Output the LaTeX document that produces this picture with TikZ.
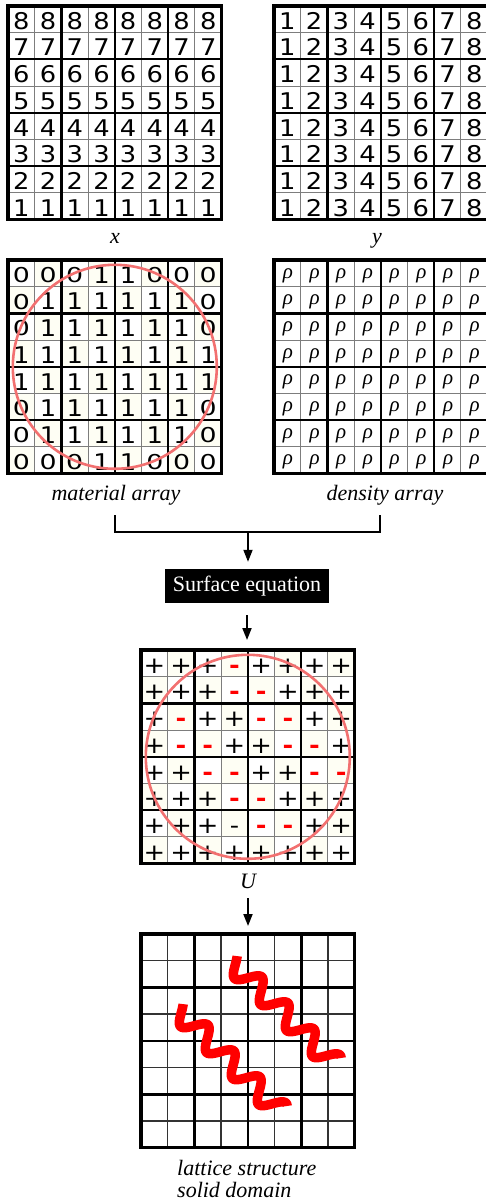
\documentclass[tikz,border=0pt]{standalone}
\usepackage{fontspec}
\setmainfont{Liberation Serif}
\newfontfamily\cellfont[FakeStretch=1.12]{DejaVu Sans}
\newfontfamily\cellfontbold[FakeStretch=1.12]{DejaVu Sans Bold}
\usetikzlibrary{arrows.meta}

\definecolor{cream}{RGB}{254,254,244}
\definecolor{ringred}{RGB}{242,112,112}
\definecolor{gridgray}{RGB}{125,125,125}

\tikzset{
  thinrule/.style={gridgray, line width=1.1pt},
  thickrule/.style={black, line width=2.2pt},
  latthin/.style={black!80, line width=1.4pt},
  latthick/.style={black, line width=2.6pt},
  border/.style={black, line width=3.6pt, line join=miter},
  gridbox/.style={minimum size=213.6pt, inner sep=0pt, outer sep=0pt, anchor=north west},
  cellnum/.style={font=\cellfont\fontsize{23}{23}\selectfont, inner sep=0pt, text height=16.8pt, text depth=0pt},
  rhocell/.style={font=\fontsize{21}{21}\selectfont\itshape, inner sep=0pt},
  caption/.style={font=\fontsize{22}{22}\selectfont\itshape, inner sep=0pt, anchor=base},
  ring/.style={draw=ringred, line width=2.6pt},
  link/.style={line width=1.8pt, line join=miter},
  arrowlink/.style={link, -{Triangle[length=12pt,width=9pt]}},
  squiggle/.style={red, line width=9.5pt, line cap=butt, line join=round},
  surfbox/.style={fill=black, text=white, font=\fontsize{22}{22}\selectfont,
    minimum width=164pt, minimum height=34pt, inner sep=0pt},
}

\def\cellw{26.7}

% grid rules of an 8x8 array, drawn inside a scope shifted to its corner
\newcommand\gridrules[2]{%
  \foreach \k in {1,3,5,7}{
    \draw[#1] ({\k*\cellw},0) -- ({\k*\cellw},{8*\cellw});
    \draw[#1] (0,{\k*\cellw}) -- ({8*\cellw},{\k*\cellw});
  }
  \foreach \k in {2,4,6}{
    \draw[#2] ({\k*\cellw},0) -- ({\k*\cellw},{8*\cellw});
    \draw[#2] (0,{\k*\cellw}) -- ({8*\cellw},{\k*\cellw});
  }
}
% faint checkerboard shading
\newcommand\checker{%
  \foreach \r in {1,...,8}{
    \foreach \c in {1,...,8}{
      \pgfmathtruncatemacro\odd{mod(\r+\c,2)}
      \ifnum\odd=1
        \fill[cream] ({(\c-1)*\cellw},{(\r-1)*\cellw}) rectangle ++(\cellw,\cellw);
      \fi
    }
  }
}

\def\symP{+}
\def\symM{\textcolor{red}{\cellfontbold -}}
\def\symK{-}
% material flags: the zero is set a little lower and rounder
\def\flagA{1}
\def\flagZ{\raisebox{0.9pt}{\scalebox{1.04}[0.89]{0}}}

% wave: degrees per point along the strand, and the strand's sideways offset
\def\wk{9.7906}
\def\wave#1{10.2*cos(#1*\wk)}

\begin{document}
\begin{tikzpicture}[x=1pt,y=-1pt]
\useasboundingbox (0,0) rectangle (485,1204);

% ---------- x coordinates ----------
\node[gridbox] (gx) at (8,6) {};
\begin{scope}[shift={(gx.north west)}]
  \gridrules{thinrule}{thickrule}
  \foreach \r in {1,...,8}{
    \foreach \c in {1,...,8}{
      \pgfmathtruncatemacro\v{9-\r}
      \node[cellnum] (x-\r-\c) at ({(\c-0.5)*\cellw},{(\r-0.5)*\cellw+1.5}) {\v};
    }
  }
\end{scope}
\draw[border] (gx.north west) rectangle (gx.south east);
\node[caption] (xlab) at (115,243) {x};

% ---------- y coordinates ----------
\node[gridbox] (gy) at (274,6) {};
\begin{scope}[shift={(gy.north west)}]
  \gridrules{thinrule}{thickrule}
  \foreach \r in {1,...,8}{
    \foreach \c in {1,...,8}{
      \node[cellnum] (y-\r-\c) at ({(\c-0.5)*\cellw},{(\r-0.5)*\cellw+1.5}) {\c};
    }
  }
\end{scope}
\draw[border] (gy.north west) rectangle (gy.south east);
\node[caption] (ylab) at (377,243) {y};

% ---------- material array ----------
\node[gridbox] (gm) at (8,260) {};
\begin{scope}[shift={(gm.north west)}]
  \checker
  \gridrules{thinrule}{thickrule}
  \foreach \row [count=\r] in {{Z,Z,Z,A,A,Z,Z,Z},{Z,A,A,A,A,A,A,Z},{Z,A,A,A,A,A,A,Z},
      {A,A,A,A,A,A,A,A},{A,A,A,A,A,A,A,A},{Z,A,A,A,A,A,A,Z},{Z,A,A,A,A,A,A,Z},{Z,Z,Z,A,A,Z,Z,Z}}{
    \foreach \v [count=\c] in \row{
      \node[cellnum] (m-\r-\c) at ({(\c-0.5)*\cellw},{(\r-0.5)*\cellw+1.5}) {\csname flag\v\endcsname};
    }
  }
\end{scope}
\draw[border] (gm.north west) rectangle (gm.south east);
\draw[ring] (gm.center) circle[radius=102];
\node[caption] (mlab) at (116,500) {material array};

% ---------- density array ----------
\node[gridbox] (gd) at (274,260) {};
\begin{scope}[shift={(gd.north west)}]
  \gridrules{thinrule}{thickrule}
  \foreach \r in {1,...,8}{
    \foreach \c in {1,...,8}{
      \node[rhocell] (d-\r-\c) at ({(\c-0.5)*\cellw+0.5},{(\r-0.5)*\cellw+2}) {ρ};
    }
  }
\end{scope}
\draw[border] (gd.north west) rectangle (gd.south east);
\node[caption] (dlab) at (385,500) {density array};

% ---------- merge into the surface equation ----------
\coordinate (mfoot) at (115,515);
\coordinate (dfoot) at (380,515);
\coordinate (join) at (248,532);
\draw[link] (mfoot) -- (mfoot |- join) -- (dfoot |- join) -- (dfoot);
\node[surfbox] (surf) at (247,586) {Surface equation};
\draw[arrowlink, shorten >=7pt] (join) -- (join |- surf.north);

% ---------- level-set values U ----------
\node[gridbox] (gu) at (141,650) {};
\draw[arrowlink, shorten <=12pt, shorten >=10pt] (surf.south) -- (surf.south |- gu.north);
\begin{scope}[shift={(gu.north west)}]
  \checker
  \gridrules{thinrule}{thickrule}
  \foreach \row [count=\r] in {{P,P,P,M,P,P,P,P},{P,P,P,M,M,P,P,P},{P,M,P,P,M,M,P,P},
      {P,M,M,P,P,M,M,P},{P,P,M,M,P,P,M,M},{P,P,P,M,M,P,P,P},{P,P,P,K,M,M,P,P},{P,P,P,P,P,P,P,P}}{
    \foreach \v [count=\c] in \row{
      \node[cellnum] (u-\r-\c) at ({(\c-0.5)*\cellw},{(\r-0.5)*\cellw+1.5}) {\csname sym\v\endcsname};
    }
  }
\end{scope}
\draw[border] (gu.north west) rectangle (gu.south east);
\draw[ring] (gu.center) circle[radius=102];
\node[caption] (ulab) at (248,888) {U};

% ---------- lattice structure ----------
\node[gridbox] (gl) at (141,934) {};
\draw[arrowlink, shorten <=10pt, shorten >=8pt] (ulab.south) -- (ulab.south |- gl.north);
\begin{scope}[shift={(gl.north west)}]
  \gridrules{latthin}{latthick}
\end{scope}
\draw[border] (gl.north west) rectangle (gl.south east);
\draw[squiggle] plot[domain=4.4:150, samples=200, variable=\t]
  ({228.75+(\t+\wave{\t})*0.7071}, {958.25+(\t-\wave{\t})*0.7071});
\draw[squiggle] plot[domain=4.4:150, samples=200, variable=\t]
  ({174.75+(\t+\wave{\t})*0.7071}, {1006.25+(\t-\wave{\t})*0.7071});
\node[font=\fontsize{22}{22}\selectfont\itshape, inner sep=0pt, align=left, anchor=north west]
  (llab) at (177,1160) {lattice structure\\solid domain};

\end{tikzpicture}
\end{document}
